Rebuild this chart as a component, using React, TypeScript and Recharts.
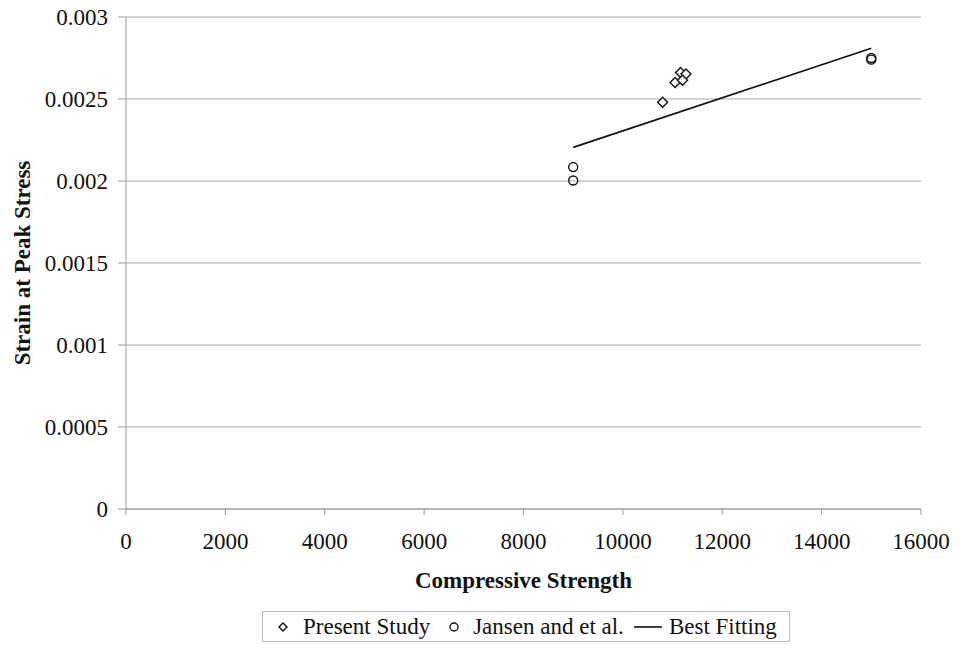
import {
  ScatterChart, Scatter, XAxis, YAxis, CartesianGrid
} from 'recharts'

const presentStrength = [10800, 11050, 11160, 11270, 11200]
const presentStrain = [0.00248, 0.0026, 0.002662, 0.002652, 0.002615]

const jansenStrength = [9000, 9000, 15000, 15000]
const jansenStrain = [0.002085, 0.002003, 0.00275, 0.00274]

const fitStrength = [9000, 15000]
const fitStrain = [0.002205, 0.00281]

const xTicks = [0, 2000, 4000, 6000, 8000, 10000, 12000, 14000, 16000]
const yTicks = [0, 0.0005, 0.001, 0.0015, 0.002, 0.0025, 0.003]

const FONT = '"Liberation Serif", "Times New Roman", serif'

const toPoints = (xs: number[], ys: number[]) => xs.map((x, i) => ({ x, y: ys[i] }))

const presentData = toPoints(presentStrength, presentStrain)
const jansenData = toPoints(jansenStrength, jansenStrain)
const fitData = toPoints(fitStrength, fitStrain)

function Diamond(props: any) {
  const { cx, cy } = props
  const r = 5
  return (
    <path
      d={`M${cx},${cy - r}L${cx + r},${cy}L${cx},${cy + r}L${cx - r},${cy}Z`}
      fill="#fff"
      stroke="#111"
      strokeWidth={1.4}
    />
  )
}

function Ring(props: any) {
  const { cx, cy } = props
  return <circle cx={cx} cy={cy} r={4.5} fill="none" stroke="#111" strokeWidth={1.4} />
}

function NoDot() {
  return <g />
}

function YTitle(props: any) {
  const { viewBox } = props
  const cy = viewBox.y + viewBox.height / 2
  return (
    <text
      x={22}
      y={cy}
      transform={`rotate(-90, 22, ${cy})`}
      textAnchor="middle"
      dominantBaseline="central"
      fontFamily={FONT}
      fontWeight="bold"
      fontSize={23}
      fill="#111"
    >
      Strain at Peak Stress
    </text>
  )
}

// legend sits below the chart in the original, drawn as plain html here
function LegendBox() {
  const item = { display: 'inline-flex', alignItems: 'center' }
  return (
    <div
      style={{
        position: 'absolute',
        left: 262,
        top: 611,
        height: 31,
        boxSizing: 'border-box',
        display: 'flex',
        alignItems: 'center',
        border: '1px solid #bbb',
        padding: '0 12px 0 14px',
        fontFamily: FONT,
        fontSize: 23,
        color: '#111',
        background: '#fff',
        whiteSpace: 'nowrap',
      }}
    >
      <span style={item}>
        <svg width={12} height={12} style={{ marginRight: 14 }}>
          <path d="M6,2L10,6L6,10L2,6Z" fill="none" stroke="#111" strokeWidth={1.4} />
        </svg>
        Present Study
      </span>
      <span style={{ ...item, marginLeft: 18 }}>
        <svg width={12} height={12} style={{ marginRight: 13 }}>
          <circle cx={6} cy={6} r={4} fill="none" stroke="#111" strokeWidth={1.4} />
        </svg>
        Jansen and et al.
      </span>
      <span style={{ ...item, marginLeft: 10 }}>
        <svg width={28} height={12} style={{ marginRight: 7 }}>
          <line x1={0} y1={6} x2={28} y2={6} stroke="#111" strokeWidth={1.6} />
        </svg>
        Best Fitting
      </span>
    </div>
  )
}

export default function App() {
  return (
    <div style={{ position: 'absolute', left: 0, top: 0, width: 959, height: 645, background: '#fff' }}>
      <ScatterChart
        width={959}
        height={645}
        margin={{ top: 17, right: 38, bottom: 106, left: 0 }}
      >
        <CartesianGrid vertical={false} stroke="#aaa" strokeWidth={1} />
        <XAxis
          type="number"
          dataKey="x"
          domain={[0, 16000]}
          ticks={xTicks}
          interval={0}
          height={30}
          axisLine={{ stroke: '#999' }}
          tickLine={{ stroke: '#999' }}
          tickSize={6}
          tickMargin={18}
          tick={{ fill: '#111', fontSize: 23, fontFamily: FONT }}
          label={{
            value: 'Compressive Strength',
            position: 'insideBottom',
            offset: -49,
            fill: '#111',
            fontSize: 23,
            fontWeight: 'bold',
            fontFamily: FONT,
          }}
        />
        <YAxis
          type="number"
          dataKey="y"
          domain={[0, 0.003]}
          ticks={yTicks}
          interval={0}
          width={126}
          axisLine={{ stroke: '#999' }}
          tickLine={{ stroke: '#999' }}
          tickSize={8}
          tickMargin={10}
          tick={{ fill: '#111', fontSize: 23, fontFamily: FONT }}
          label={<YTitle />}
        />
        <Scatter
          name="Best Fitting"
          data={fitData}
          line={{ stroke: '#111', strokeWidth: 1.6 }}
          shape={<NoDot />}
          isAnimationActive={false}
        />
        <Scatter
          name="Present Study"
          data={presentData}
          shape={<Diamond />}
          isAnimationActive={false}
        />
        <Scatter
          name="Jansen and et al."
          data={jansenData}
          shape={<Ring />}
          isAnimationActive={false}
        />
      </ScatterChart>
      <LegendBox />
    </div>
  )
}
